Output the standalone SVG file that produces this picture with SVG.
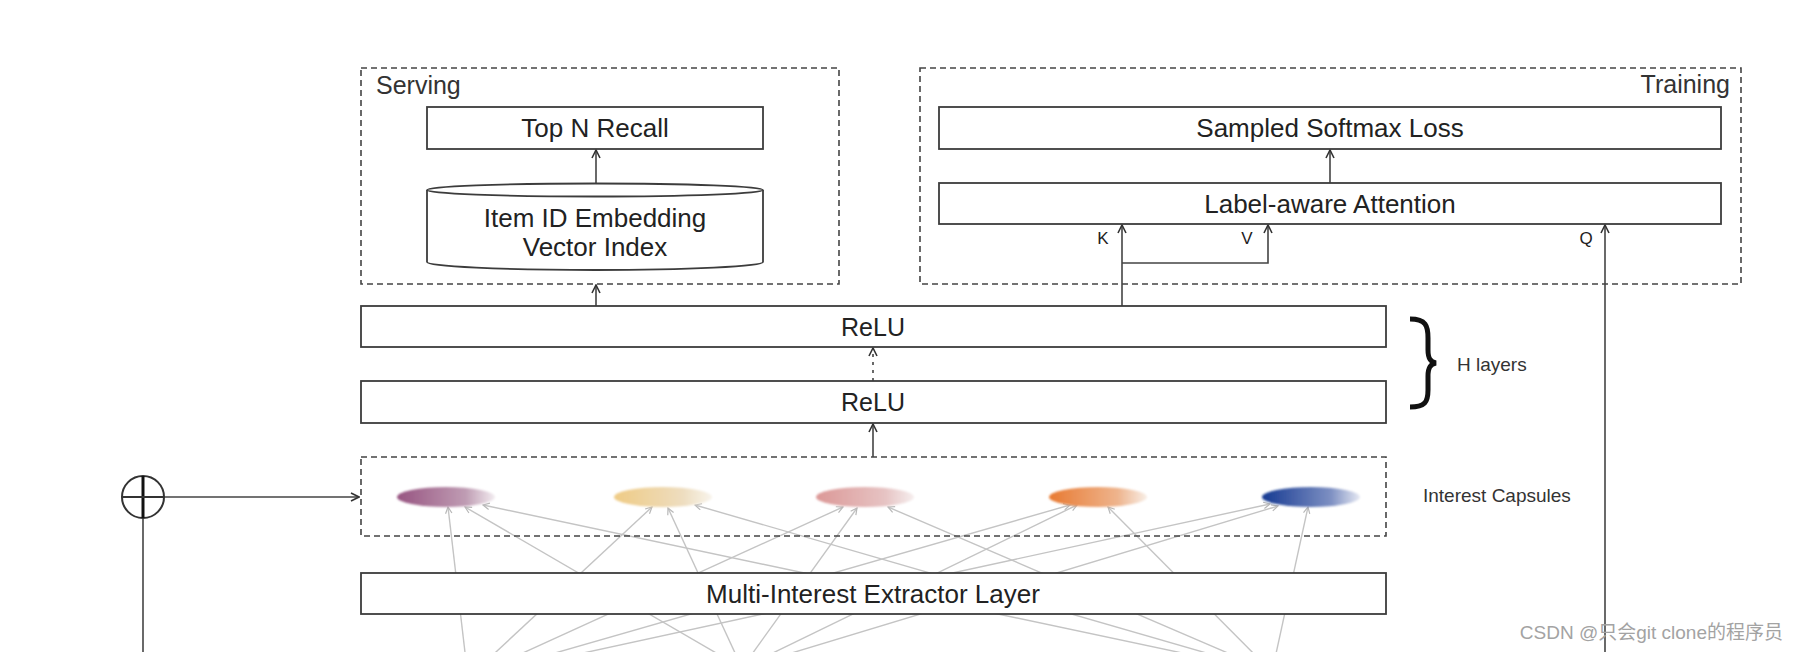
<svg xmlns="http://www.w3.org/2000/svg" width="1800" height="652" viewBox="0 0 1800 652">
<defs>
<style>
.box{fill:#fff;stroke:#3c3c3c;stroke-width:1.8}
.dash{fill:none;stroke:#444;stroke-width:1.6;stroke-dasharray:6 4}
.t{font-family:"Liberation Sans",Arial,sans-serif;font-size:26px;fill:#222;text-anchor:middle}
.s{font-family:"Liberation Sans",Arial,sans-serif;font-size:19px;fill:#333}
.kv{font-family:"Liberation Sans",Arial,sans-serif;font-size:17px;fill:#222;text-anchor:middle}
.ln{fill:none;stroke:#444;stroke-width:1.6}
.gl{fill:none;stroke:#c4c4c4;stroke-width:1.4;marker-end:url(#ga)}
</style>
<marker id="da" viewBox="0 0 10 10" refX="9" refY="5" markerWidth="10" markerHeight="10" markerUnits="userSpaceOnUse" orient="auto"><path d="M1,1 L9,5 L1,9" fill="none" stroke="#333" stroke-width="1.6"/></marker>
<marker id="ga" viewBox="0 0 10 10" refX="9" refY="5" markerWidth="8" markerHeight="8" markerUnits="userSpaceOnUse" orient="auto"><path d="M1,1 L9,5 L1,9" fill="none" stroke="#b8b8b8" stroke-width="1.5"/></marker>
<linearGradient id="g1"><stop offset="0" stop-color="#975481"/><stop offset="0.7" stop-color="#bf9cb3"/><stop offset="1" stop-color="#f2ecf0"/></linearGradient>
<linearGradient id="g2"><stop offset="0" stop-color="#efcb85"/><stop offset="0.7" stop-color="#eeddbf"/><stop offset="1" stop-color="#f8f4ec"/></linearGradient>
<linearGradient id="g3"><stop offset="0" stop-color="#dc9897"/><stop offset="0.7" stop-color="#e6c3c3"/><stop offset="1" stop-color="#f6eeee"/></linearGradient>
<linearGradient id="g4"><stop offset="0" stop-color="#e87a32"/><stop offset="0.7" stop-color="#eeb48d"/><stop offset="1" stop-color="#f8eee6"/></linearGradient>
<linearGradient id="g5"><stop offset="0" stop-color="#163a92"/><stop offset="0.7" stop-color="#7d8fc2"/><stop offset="1" stop-color="#e6e9f3"/></linearGradient>
<filter id="soft" x="-10%" y="-30%" width="120%" height="160%"><feGaussianBlur stdDeviation="0.9"/></filter>
</defs>
<rect width="1800" height="652" fill="#fff"/>

<g id="connectors">
  <path class="gl" d="M468,678 L448,507"/>
  <path class="gl" d="M468,678 L652,507"/>
  <path class="gl" d="M468,678 L843,507"/>
  <path class="gl" d="M468,678 L1070,505"/>
  <path class="gl" d="M468,678 L1270,504"/>
  <path class="gl" d="M742,668 L465,507"/>
  <path class="gl" d="M742,668 L668,508"/>
  <path class="gl" d="M742,668 L857,508"/>
  <path class="gl" d="M742,668 L1077,505"/>
  <path class="gl" d="M742,668 L1278,506"/>
  <path class="gl" d="M1272,672 L483,505"/>
  <path class="gl" d="M1272,672 L695,505"/>
  <path class="gl" d="M1272,672 L888,507"/>
  <path class="gl" d="M1272,672 L1108,507"/>
  <path class="gl" d="M1272,672 L1308,507"/>
  <path class="ln" d="M873,457 L873,424" marker-end="url(#da)"/>
  <path class="ln" d="M873,381 L873,348" stroke="#888" stroke-dasharray="3 5" marker-end="url(#da)"/>
  <path class="ln" d="M596,306 L596,285" marker-end="url(#da)"/>
  <path class="ln" d="M596,184 L596,150" marker-end="url(#da)"/>
  <path class="ln" d="M1330,183 L1330,150" marker-end="url(#da)"/>
  <path class="ln" d="M1122,306 L1122,225" marker-end="url(#da)"/>
  <path class="ln" d="M1122,263 L1268,263 L1268,225" marker-end="url(#da)"/>
  <path class="ln" d="M1605,652 L1605,225" stroke="#666" marker-end="url(#da)"/>
  <path class="ln" d="M143,518 L143,652" stroke-width="2"/>
  <path class="ln" d="M164,497 L359,497" stroke-width="2" marker-end="url(#da)"/>
</g>

<g id="serving">
  <rect class="dash" x="361" y="68" width="478" height="216"/>
  <text class="s" x="376" y="94" style="font-size:25px">Serving</text>
</g>
<g id="top-n-recall">
  <rect class="box" x="427" y="107" width="336" height="42"/>
  <text class="t" x="595" y="137">Top N Recall</text>
</g>
<g id="vector-index">
  <path d="M427,190 L427,262 A168,8 0 0 0 763,262 L763,190" fill="#fff" stroke="#3c3c3c" stroke-width="1.8"/>
  <ellipse cx="595" cy="190" rx="168" ry="6.5" fill="#fff" stroke="#3c3c3c" stroke-width="1.8"/>
  <text class="t" x="595" y="227">Item ID Embedding</text>
  <text class="t" x="595" y="256">Vector Index</text>
</g>

<g id="training">
  <rect class="dash" x="920" y="68" width="821" height="216"/>
  <text class="s" x="1730" y="93" style="font-size:25px;text-anchor:end">Training</text>
</g>
<g id="sampled-softmax">
  <rect class="box" x="939" y="107" width="782" height="42"/>
  <text class="t" x="1330" y="137">Sampled Softmax Loss</text>
</g>
<g id="label-aware-attention">
  <rect class="box" x="939" y="183" width="782" height="41"/>
  <text class="t" x="1330" y="213">Label-aware Attention</text>
  <text class="kv" x="1103" y="244">K</text>
  <text class="kv" x="1247" y="244">V</text>
  <text class="kv" x="1586" y="244">Q</text>
</g>

<g id="relu-top">
  <rect class="box" x="361" y="306" width="1025" height="41"/>
  <text class="t" x="873" y="336" style="font-size:25px">ReLU</text>
</g>
<g id="relu-bottom">
  <rect class="box" x="361" y="381" width="1025" height="42"/>
  <text class="t" x="873" y="411" style="font-size:25px">ReLU</text>
</g>
<g id="h-layers">
  <path d="M1410,319 C1426,319 1428,326 1428,338 L1428,350 C1428,358 1430,362 1436,363 C1430,364 1428,368 1428,376 L1428,390 C1428,402 1425,407 1410,407" fill="none" stroke="#111" stroke-width="5"/>
  <text class="s" x="1457" y="371">H layers</text>
</g>

<g id="interest-capsules">
  <rect class="dash" x="361" y="457" width="1025" height="79" stroke-dasharray="5 4" stroke="#333"/>
  <g filter="url(#soft)">
    <ellipse cx="446" cy="497" rx="49" ry="10" fill="url(#g1)"/>
    <ellipse cx="663" cy="497" rx="49" ry="10" fill="url(#g2)"/>
    <ellipse cx="865" cy="497" rx="49" ry="10" fill="url(#g3)"/>
    <ellipse cx="1098" cy="497" rx="49" ry="10" fill="url(#g4)"/>
    <ellipse cx="1311" cy="497" rx="49" ry="10" fill="url(#g5)"/>
  </g>
  <text class="s" x="1423" y="502">Interest Capsules</text>
</g>

<g id="multi-interest-extractor">
  <rect class="box" x="361" y="573" width="1025" height="41"/>
  <text class="t" x="873" y="603">Multi-Interest Extractor Layer</text>
</g>

<g id="sum-node">
  <circle cx="143" cy="497" r="21" fill="#fff" stroke="#333" stroke-width="2"/>
  <path d="M143,476 L143,518" stroke="#111" stroke-width="3"/>
  <path d="M122,497 L164,497" stroke="#333" stroke-width="2"/>
</g>

<text x="1783" y="639" style="font-family:'Liberation Sans','Noto Sans CJK SC',sans-serif;font-size:19px;fill:#a3a3a3;text-anchor:end">CSDN @只会git clone的程序员</text>
</svg>
